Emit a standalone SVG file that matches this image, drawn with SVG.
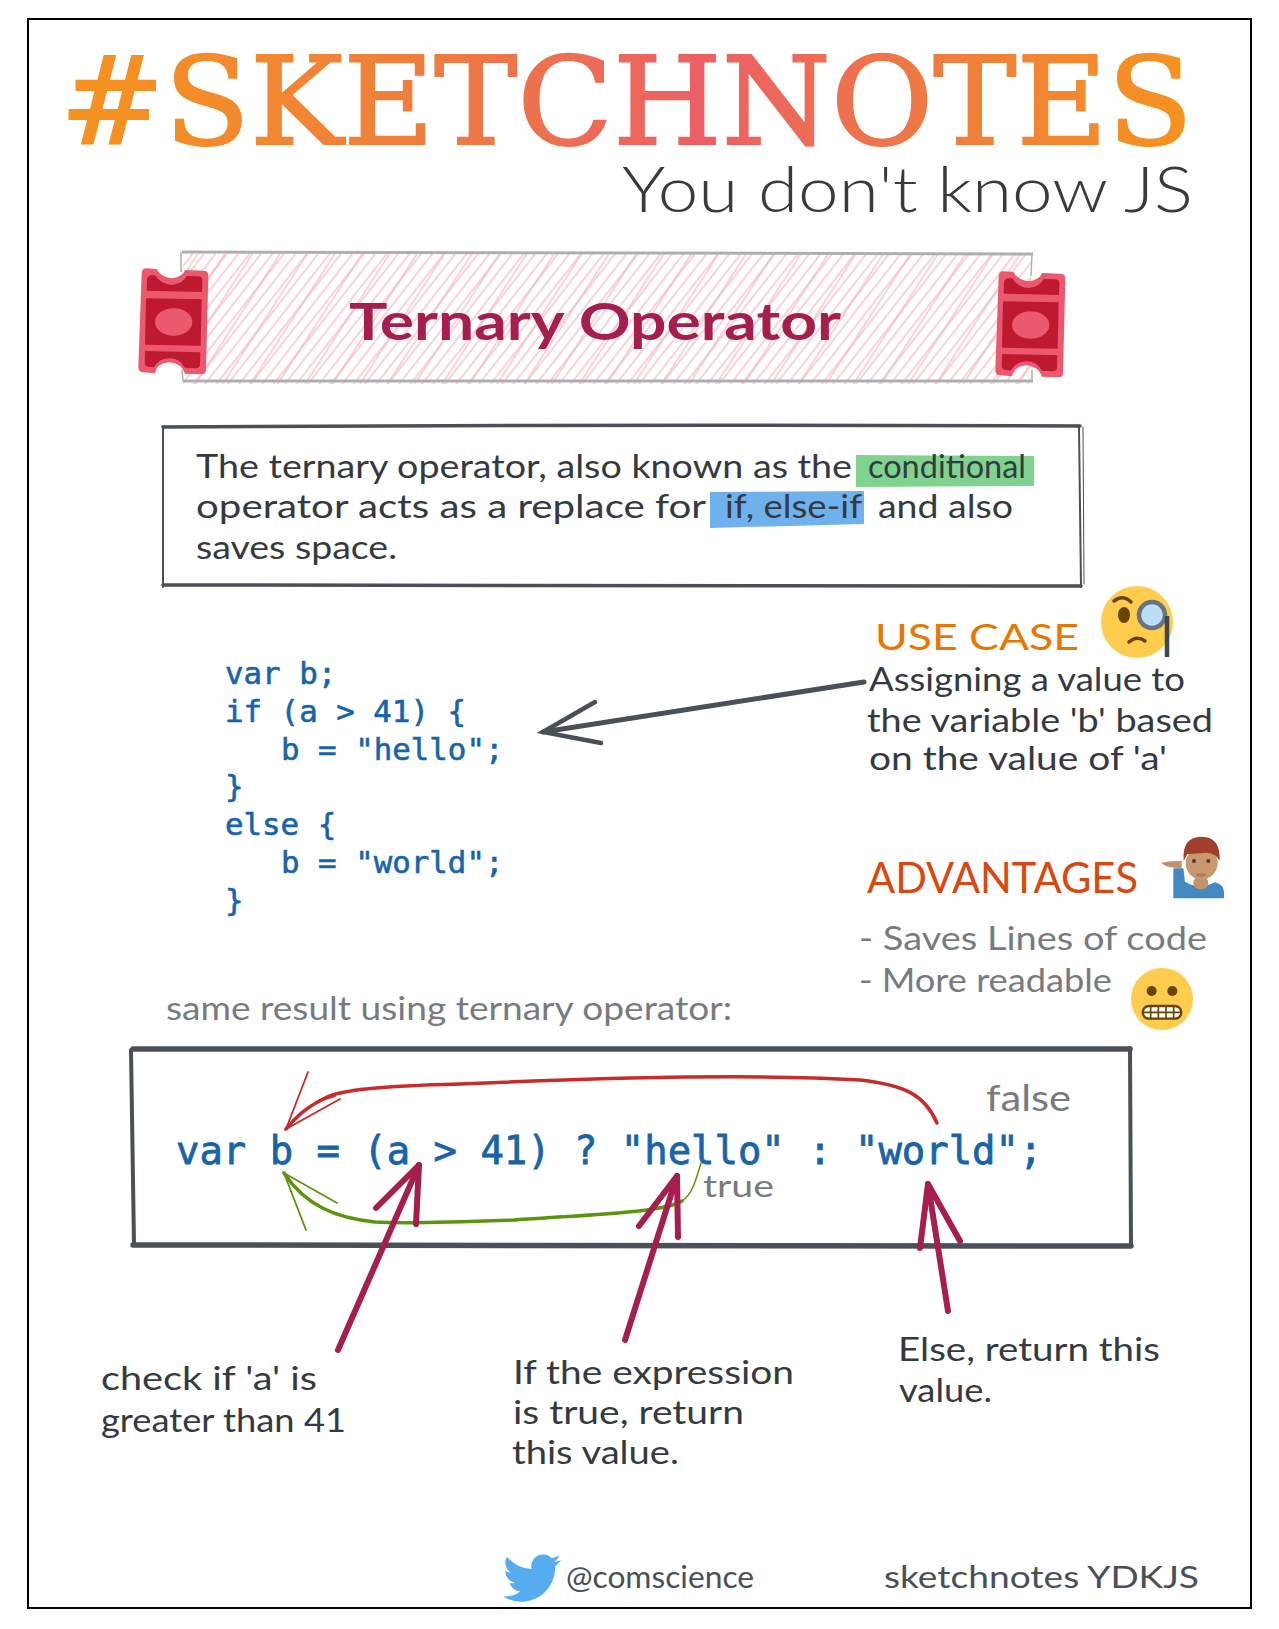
<svg xmlns="http://www.w3.org/2000/svg" xmlns:xlink="http://www.w3.org/1999/xlink" width="1279" height="1629" viewBox="0 0 1279 1629">
<style>
text{font-family:"Lato","Open Sans",sans-serif;font-size:32px}
.dark{fill:#343a40}
.gray{fill:#777b80}
.foot{fill:#495057;font-size:31px}
.code{font-family:"DejaVu Sans Mono","Liberation Mono",monospace;fill:#1864ab;stroke:#1864ab;stroke-width:.6px;font-size:30.8px}
.big{font-size:38.9px;stroke-width:.8px}
.box{fill:none;stroke:#495057;stroke-linecap:round}
.purple{fill:none;stroke:#a61e4d;stroke-width:6;stroke-linecap:round;stroke-linejoin:round}
.red{fill:none;stroke:#c92a2a;stroke-linecap:round}
.green{fill:none;stroke:#5c940d;stroke-linecap:round}
.tOut{fill:#ea596e}
.tIn{fill:#be1931}
</style>
<defs>
<linearGradient id="titleGrad" gradientUnits="userSpaceOnUse" x1="69" y1="0" x2="1188" y2="0">
<stop offset="0" stop-color="#f6931e"/><stop offset=".3" stop-color="#ef7f3c"/><stop offset=".57" stop-color="#ec5f66"/><stop offset=".8" stop-color="#ef7f3c"/><stop offset="1" stop-color="#f6931e"/>
</linearGradient>
<pattern id="hatchA" width="9" height="9" patternUnits="userSpaceOnUse" patternTransform="rotate(-52)">
<line x1="0" y1="2" x2="9" y2="2" stroke="#f3a6ac" stroke-width="1"/>
</pattern>
<pattern id="hatchB" width="23" height="23" patternUnits="userSpaceOnUse" patternTransform="rotate(-57)">
<line x1="0" y1="5" x2="23" y2="5" stroke="#f5b5b9" stroke-width="1.2"/>
</pattern>
<g id="ticket" transform="translate(120,230) scale(.33333)">
<path class="tOut" d="M80 115L110 117Q120 140 155 145Q190 140 195 120L250 122Q266 122 265 138L258 420Q258 434 243 433L195 431Q185 400 147 397Q110 400 105 430L70 427Q55 427 55 412L65 130Q65 115 80 115Z"/>
<path class="tIn" d="M95 136L105 136Q125 165 157 165Q190 160 200 138L235 139Q248 140 247 152L246 186L80 182L81 150Q82 136 95 136Z"/>
<path class="tIn" d="M78 205L245 208L242 347L75 344Z"/>
<path class="tIn" d="M75 363L241 367L240 402Q240 415 225 415L195 413Q180 385 147 385Q115 387 102 412L88 411Q74 410 74 398Z"/>
<ellipse class="tOut" cx="161" cy="276" rx="56" ry="41"/>
</g>
</defs>
<rect width="1279" height="1629" fill="#fff"/>
<rect id="frame" x="28" y="19" width="1223" height="1589" fill="none" stroke="#000" stroke-width="2"/>

<g id="title"><text x="60" y="144" style="font-family:'DejaVu Serif',serif;font-size:122px" fill="url(#titleGrad)" stroke="url(#titleGrad)" stroke-width="2" textLength="1133" lengthAdjust="spacingAndGlyphs">#SKETCHNOTES</text></g>
<g id="subtitle"><text x="622" y="212" style="font-size:64px;font-weight:300" fill="#3a3a3a" textLength="571" lengthAdjust="spacingAndGlyphs">You don't know JS</text></g>

<g id="banner">
<rect x="183" y="254" width="848" height="130" fill="url(#hatchA)"/>
<rect x="183" y="254" width="848" height="130" fill="url(#hatchB)"/>
<path d="M182 252L1033 254M183 381L1033 381" fill="none" stroke="#adb0b3" stroke-width="3"/>
<path d="M181 252L181 272M182 370L183 381M1032 254L1031 276M1032 370L1032 381" fill="none" stroke="#adb0b3" stroke-width="1.5"/>
<use href="#ticket" xlink:href="#ticket"/>
<use href="#ticket" xlink:href="#ticket" transform="translate(857,3)"/>
<text x="349" y="340" style="font-size:52px;font-weight:700" fill="#a61e4d" textLength="492" lengthAdjust="spacingAndGlyphs">Ternary Operator</text>
</g>

<g id="description">
<path class="box" stroke-width="3.5" d="M163 427Q620 424 1080 426"/>
<path class="box" stroke-width="3.5" d="M163 585Q620 584 1081 586"/>
<path class="box" stroke-width="2" d="M163 426L163 587M1079 427L1081 587"/>
<path class="box" stroke-width="1" d="M1083 427L1084 584"/>
<path d="M856 455L1034 456L1034 486L856 487Z" fill="#7fd38e"/>
<path d="M710 492L864 491L864 524L710 528Z" fill="#6fb1ec"/>
<text class="dark" x="196" y="478" textLength="656" lengthAdjust="spacingAndGlyphs">The ternary operator, also known as the</text>
<text class="dark" x="868" y="478" textLength="158" lengthAdjust="spacingAndGlyphs">conditional</text>
<text class="dark" x="196" y="518" textLength="510" lengthAdjust="spacingAndGlyphs">operator acts as a replace for</text>
<text class="dark" x="725" y="518" textLength="137" lengthAdjust="spacingAndGlyphs">if, else-if</text>
<text class="dark" x="878" y="518" textLength="135" lengthAdjust="spacingAndGlyphs">and also</text>
<text class="dark" x="196" y="559" textLength="201" lengthAdjust="spacingAndGlyphs">saves space.</text>
</g>

<g id="code-block">
<text class="code" x="225" y="684">var b;</text>
<text class="code" x="225" y="722">if (a &gt; 41) {</text>
<text class="code" x="281" y="760">b = "hello";</text>
<text class="code" x="225" y="797">}</text>
<text class="code" x="225" y="835">else {</text>
<text class="code" x="281" y="873">b = "world";</text>
<text class="code" x="225" y="911">}</text>
</g>

<g id="use-case">
<text x="875" y="650" style="font-size:36px" fill="#e67700" textLength="204" lengthAdjust="spacingAndGlyphs">USE CASE</text>
<circle cx="1137" cy="622" r="36" fill="#ffcc4d"/>
<ellipse cx="1124" cy="615" rx="6" ry="8" fill="#664500"/>
<path d="M1114 601Q1123 594 1131 602M1129 642Q1137 635 1145 641" fill="none" stroke="#664500" stroke-width="3.500" stroke-linecap="round"/>
<circle cx="1152" cy="615" r="13" fill="#bbddf5" stroke="#66757f" stroke-width="4.500"/>
<path d="M1167 616L1167 657" stroke="#3b4a52" stroke-width="4.500"/>
<text class="dark" x="869" y="691" textLength="316" lengthAdjust="spacingAndGlyphs">Assigning a value to</text>
<text class="dark" x="867" y="732" textLength="346" lengthAdjust="spacingAndGlyphs">the variable 'b' based</text>
<text class="dark" x="869" y="770" textLength="298" lengthAdjust="spacingAndGlyphs">on the value of 'a'</text>
</g>

<g id="advantages">
<text x="867" y="893" style="font-size:43px" fill="#d9480f" textLength="271" lengthAdjust="spacingAndGlyphs">ADVANTAGES</text>
<g transform="translate(840,570) scale(.33333)">
<path d="M1000 985L1000 895L1030 895L1035 935Q1050 945 1080 950Q1110 945 1125 937Q1152 945 1152 965L1152 985Z" fill="#4289c1"/>
<rect x="1060" y="920" width="45" height="38" rx="18" fill="#c1946a"/>
<path d="M963 878Q990 872 1025 872L1025 895L1000 893Q975 890 963 878Z" fill="#c1946a"/>
<circle cx="1085" cy="880" r="48" fill="#c8986f"/>
<path d="M1031 872Q1025 800 1085 800Q1142 800 1139 872L1128 858Q1110 845 1085 850Q1055 852 1042 852Z" fill="#a0402c"/>
<circle cx="1062" cy="873" r="6" fill="#60352a"/><circle cx="1105" cy="873" r="6" fill="#60352a"/>
<ellipse cx="1083" cy="915" rx="16" ry="5" fill="#b57a5a"/>
</g>
<text class="gray" x="859" y="950" textLength="348" lengthAdjust="spacingAndGlyphs">- Saves Lines of code</text>
<text class="gray" x="859" y="992" textLength="253" lengthAdjust="spacingAndGlyphs">- More readable</text>
<circle cx="1162" cy="999" r="31" fill="#ffcc4d"/>
<g transform="translate(840,570) scale(.33333)">
<circle cx="935" cy="1263" r="15" fill="#664500"/><circle cx="997" cy="1263" r="15" fill="#664500"/>
<rect x="908" y="1308" width="116" height="38" rx="19" fill="#fff" stroke="#664500" stroke-width="7"/>
<path d="M908 1327H1024M932 1308V1346M955 1308V1346M978 1308V1346M1001 1308V1346" stroke="#664500" stroke-width="5" fill="none"/>
</g>
</g>

<g id="same-result"><text class="gray" x="166" y="1020" textLength="566" lengthAdjust="spacingAndGlyphs">same result using ternary operator:</text></g>

<g id="ternary-box">
<path class="box" stroke-width="5.500" d="M133 1049Q620 1050 1130 1049"/>
<path class="box" stroke-width="5.500" d="M133 1245Q620 1245 1131 1246"/>
<path class="box" stroke-width="4" d="M131 1050L134 1245M1130 1048L1131 1245"/>
<text class="code big" x="176" y="1164">var b = (a &gt; 41) ? "hello" : "world";</text>
<text class="gray" x="986" y="1111" style="font-size:36px" textLength="85" lengthAdjust="spacingAndGlyphs">false</text>
<text class="gray" x="703" y="1197" style="font-size:31px" textLength="71" lengthAdjust="spacingAndGlyphs">true</text>
</g>

<g id="connectors">
<path class="box" stroke-width="5" d="M864 682L543 732"/>
<path class="box" stroke-width="4.500" d="M595 702L543 732L601 743"/>
<path class="red" stroke-width="3.500" d="M937 1123C925 1095 905 1085 860 1080C780 1075 640 1076 460 1084C380 1086 340 1090 325 1098C305 1108 295 1118 286 1129"/>
<path class="red" stroke-width="1.800" d="M308 1072L286 1129L340 1099M286 1129C300 1112 318 1100 335 1096"/>
<path class="green" stroke-width="1.500" d="M701 1163C696 1180 692 1195 682 1201"/>
<path class="green" stroke-width="3.500" d="M682 1201C665 1212 600 1214 514 1220C460 1222 410 1224 375 1222C335 1218 305 1205 284 1173"/>
<path class="green" stroke-width="1.800" d="M337 1203L284 1173L306 1230"/>
<path class="purple" d="M338 1350L419 1165"/>
<path class="purple" d="M376 1208L419 1165L416 1224"/>
<path class="purple" d="M625 1340L677 1176"/>
<path class="purple" d="M639 1226L677 1176L678 1237"/>
<path class="purple" d="M948 1311L928 1184"/>
<path class="purple" d="M920 1248L928 1184L960 1241"/>
</g>

<g id="note-check"><text class="dark" x="101" y="1390" textLength="216" lengthAdjust="spacingAndGlyphs">check if 'a' is</text><text class="dark" x="101" y="1432" textLength="245" lengthAdjust="spacingAndGlyphs">greater than 41</text></g>
<g id="note-true"><text class="dark" x="513" y="1384" textLength="281" lengthAdjust="spacingAndGlyphs">If the expression</text><text class="dark" x="513" y="1424" textLength="231" lengthAdjust="spacingAndGlyphs">is true, return</text><text class="dark" x="512" y="1464" textLength="167" lengthAdjust="spacingAndGlyphs">this value.</text></g>
<g id="note-else"><text class="dark" x="898" y="1361" textLength="262" lengthAdjust="spacingAndGlyphs">Else, return this</text><text class="dark" x="899" y="1402" textLength="93" lengthAdjust="spacingAndGlyphs">value.</text></g>

<g id="footer">
<path transform="translate(503,1549) scale(2.42)" fill="#55acee" d="M23.953 4.57a10 10 0 01-2.825.775 4.958 4.958 0 002.163-2.723c-.951.555-2.005.959-3.127 1.184a4.92 4.92 0 00-8.384 4.482C7.69 8.095 4.067 6.13 1.64 3.162a4.822 4.822 0 00-.666 2.475c0 1.71.87 3.213 2.188 4.096a4.904 4.904 0 01-2.228-.616v.06a4.923 4.923 0 003.946 4.827 4.996 4.996 0 01-2.212.085 4.936 4.936 0 004.604 3.417 9.867 9.867 0 01-6.102 2.105c-.39 0-.779-.023-1.17-.067a13.995 13.995 0 007.557 2.209c9.053 0 13.998-7.496 13.998-13.985 0-.21 0-.42-.015-.63A9.935 9.935 0 0024 4.59z"/>
<text class="foot" x="566" y="1588" textLength="188" lengthAdjust="spacingAndGlyphs">@comscience</text>
<text class="foot" x="884" y="1588" textLength="315" lengthAdjust="spacingAndGlyphs">sketchnotes YDKJS</text>
</g>
</svg>
